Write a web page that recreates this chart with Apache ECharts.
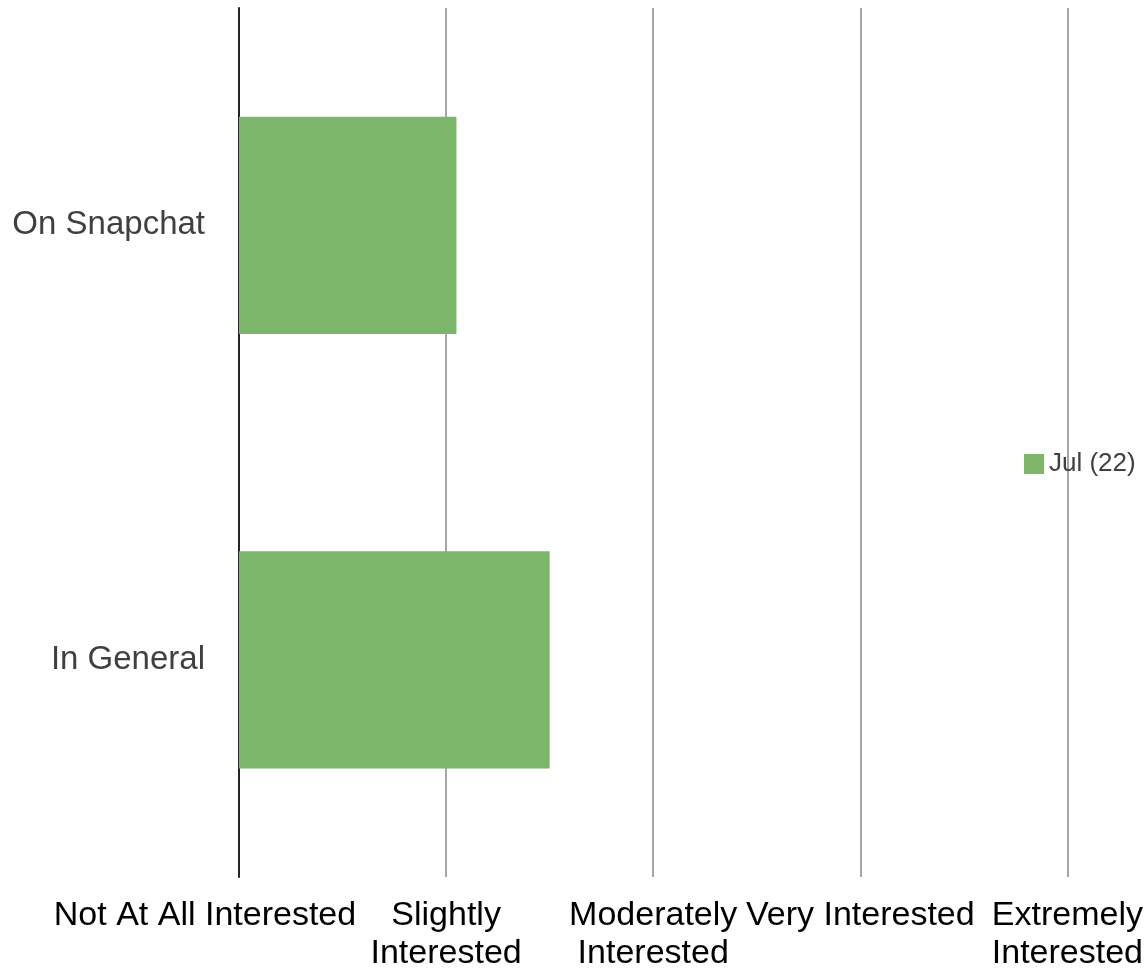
<!DOCTYPE html>
<html>
<head>
<meta charset="utf-8">
<script src="https://cdn.jsdelivr.net/npm/echarts@6/dist/echarts.min.js"></script>
<style>html,body{margin:0;padding:0;background:#fff}#c{width:1146px;height:973px}</style>
</head>
<body>
<div id="c"></div>
<script>
const categories = ['In General', 'On Snapchat'];
const seriesName = 'Jul (22)';
const values = [2.50, 2.05];
const tickValues = [1, 2, 3, 4, 5];
const tickLabels = ['Not At All Interested', 'Slightly\nInterested', 'Moderately\nInterested', 'Very Interested', 'Extremely\nInterested'];

const chart = echarts.init(document.getElementById('c'), null, {renderer: 'canvas'});
const font = 'Liberation Sans, Arial, sans-serif';
const xMin = tickValues[0], xMax = tickValues[tickValues.length - 1];
const labelBase = {
  show: true, margin: 20, verticalAlign: 'top', hideOverlap: false,
  fontFamily: font, fontSize: 34, lineHeight: 38, color: '#000'
};
chart.setOption({
  animation: false,
  backgroundColor: '#fff',
  grid: {left: 239, right: 78, top: 8, bottom: 92, containLabel: false},
  legend: {
    data: [seriesName],
    left: 1019, top: 446,
    itemWidth: 20, itemHeight: 20, icon: 'rect', itemGap: 5,
    textStyle: {fontFamily: font, fontSize: 26, color: '#404040'}
  },
  xAxis: [{
    type: 'value', min: xMin, max: xMax, interval: 1,
    axisLine: {show: false}, axisTick: {show: false},
    splitLine: {show: true, lineStyle: {color: '#a6a6a6', width: 2}},
    axisLabel: Object.assign({}, labelBase, {
      showMinLabel: false, showMaxLabel: true,
      formatter: function (v) {
        const i = tickValues.indexOf(v);
        return i <= 0 ? '' : tickLabels[i];
      }
    })
  }, {
    type: 'value', min: xMin, max: xMax, interval: 1, position: 'bottom',
    axisLine: {show: false}, axisTick: {show: false}, splitLine: {show: false},
    axisLabel: Object.assign({}, labelBase, {
      showMinLabel: true, showMaxLabel: false,
      formatter: function (v) {
        return v === xMin ? '{s|' + tickLabels[0] + '}' : '';
      },
      rich: {s: {fontFamily: font, fontSize: 34, lineHeight: 38, color: '#000', padding: [0, 68, 0, 0]}}
    })
  }],
  yAxis: {
    type: 'category', data: categories,
    axisLine: {show: true, lineStyle: {color: '#262626', width: 2}},
    axisTick: {show: false},
    axisLabel: {margin: 34, fontFamily: font, fontSize: 33, color: '#404040'}
  },
  series: [{
    name: seriesName, type: 'bar', data: values, barWidth: '50%', xAxisIndex: 0,
    itemStyle: {color: '#7db56a'}
  }]
});
</script>
</body>
</html>
